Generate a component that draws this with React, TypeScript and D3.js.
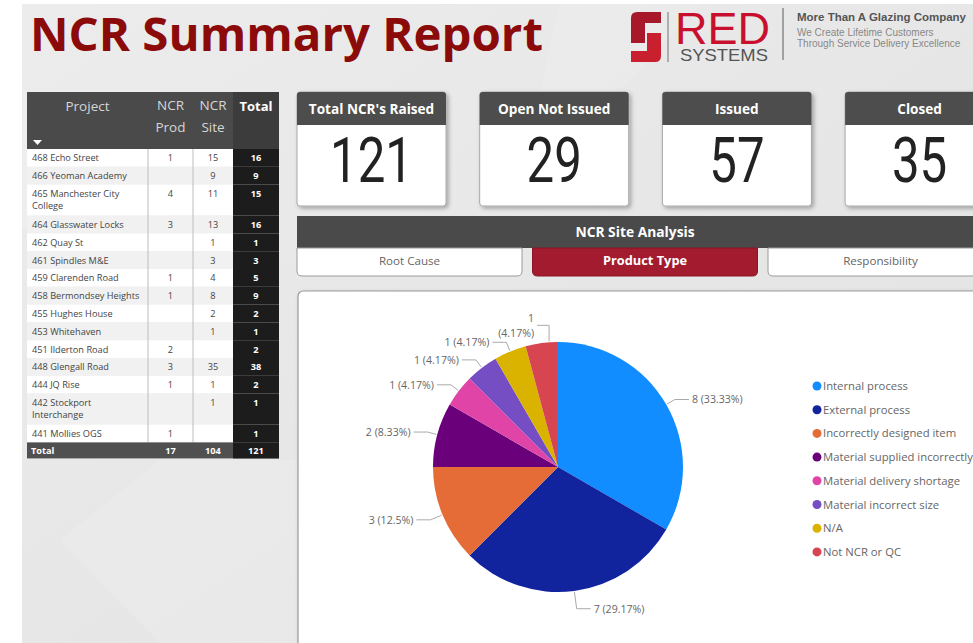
import React from "react";
import * as d3 from "d3";

// ---------- data ----------
const projects = [
  "468 Echo Street",
  "466 Yeoman Academy",
  "465 Manchester City College",
  "464 Glasswater Locks",
  "462 Quay St",
  "461 Spindles M&E",
  "459 Clarenden Road",
  "458 Bermondsey Heights",
  "455 Hughes House",
  "453 Whitehaven",
  "451 Ilderton Road",
  "448 Glengall Road",
  "444 JQ Rise",
  "442 Stockport Interchange",
  "441 Mollies OGS",
];
const ncrProd: (number | null)[] = [1, null, 4, 3, null, null, 1, 1, null, null, 2, 3, 1, null, 1];
const ncrSite: (number | null)[] = [15, 9, 11, 13, 1, 3, 4, 8, 2, 1, null, 35, 1, 1, null];

const kpiTitles = ["Total NCR's Raised", "Open Not Issued", "Issued", "Closed"];
const kpiValues = [121, 29, 57, 35];

const tabs = ["Root Cause", "Product Type", "Responsibility"];
const activeTab = 1;

const productTypes = [
  "Internal process",
  "External process",
  "Incorrectly designed item",
  "Material supplied incorrectly",
  "Material delivery shortage",
  "Material incorrect size",
  "N/A",
  "Not NCR or QC",
];
const productCounts = [8, 7, 3, 2, 1, 1, 1, 1];
const productColors = ["#118DFF", "#12239E", "#E66C37", "#6B007B", "#E044A7", "#744EC2", "#D9B300", "#D64550"];

// ---------- helpers ----------
const FONT = "'Open Sans', 'Noto Sans', sans-serif";
const LIB = "'Liberation Sans', Arial, sans-serif";

function wrap(name: string, max: number): string[] {
  const words = name.split(" ");
  const lines: string[] = [];
  let cur = "";
  for (const w of words) {
    const t = cur ? cur + " " + w : w;
    if (t.length > max && cur) {
      lines.push(cur);
      cur = w;
    } else cur = t;
  }
  if (cur) lines.push(cur);
  return lines;
}

function Table() {
  const x0 = 27, x1 = 148, x2 = 193, x3 = 233, x4 = 279;
  const headTop = 92, headBot = 149;
  const lines = projects.map((p) => wrap(p, 22));
  const heights = lines.map((l) => (l.length > 1 ? 31 : 17.8));
  const tops = [headBot, ...Array.from(d3.cumsum(heights)).map((c) => headBot + c)];
  const totals = projects.map((_, i) => (ncrProd[i] ?? 0) + (ncrSite[i] ?? 0));
  const bodyBot = tops[projects.length];
  const totalRowBot = bodyBot + 16;
  const sumProd = d3.sum(ncrProd.map((v) => v ?? 0));
  const sumSite = d3.sum(ncrSite.map((v) => v ?? 0));
  const sumAll = d3.sum(totals);
  const cProd = (x1 + x2) / 2, cSite = (x2 + x3) / 2, cTot = (x3 + x4) / 2;
  const fs = 9.2;
  return (
    <g fontFamily={FONT}>
      <rect x={x0} y={headTop} width={x4 - x0} height={headBot - headTop} fill="#4a4a4a" />
      <rect x={x3} y={headTop} width={x4 - x3} height={headBot - headTop} fill="#3c3c3c" />
      <text x={(x0 + x1) / 2} y={111} textAnchor="middle" fontSize={13.5} fill="#d6d6d6">Project</text>
      <path d={`M33,140 L42,140 L37.5,145 Z`} fill="#ffffff" />
      <text x={cProd} y={110} textAnchor="middle" fontSize={13.5} fill="#d6d6d6">NCR</text>
      <text x={cProd} y={132} textAnchor="middle" fontSize={13.5} fill="#d6d6d6">Prod</text>
      <text x={cSite} y={110} textAnchor="middle" fontSize={13.5} fill="#d6d6d6">NCR</text>
      <text x={cSite} y={132} textAnchor="middle" fontSize={13.5} fill="#d6d6d6">Site</text>
      <text x={cTot} y={111} textAnchor="middle" fontSize={13} fontWeight={700} fill="#ffffff">Total</text>
      {projects.map((p, i) => {
        const top = tops[i];
        const h = heights[i];
        const ty = top + 12.3;
        return (
          <g key={p}>
            <rect x={x0} y={top} width={x3 - x0} height={h} fill={i % 2 ? "#f1f1f1" : "#ffffff"} />
            <rect x={x3} y={top} width={x4 - x3} height={h} fill="#1c1c1c" />
            {lines[i].map((l, k) => (
              <text key={k} x={x0 + 5} y={ty + k * 12.5} fontSize={fs} fill="#444">{l}</text>
            ))}
            {ncrProd[i] != null && (
              <text x={cProd} y={ty} textAnchor="middle" fontSize={fs} fill="#444">{ncrProd[i]}</text>
            )}
            {ncrSite[i] != null && (
              <text x={cSite} y={ty} textAnchor="middle" fontSize={fs} fill="#444">{ncrSite[i]}</text>
            )}
            <text x={cTot} y={ty} textAnchor="middle" fontSize={fs} fontWeight={700} fill="#ffffff">{totals[i]}</text>
          </g>
        );
      })}
      <line x1={x1} x2={x1} y1={headBot} y2={bodyBot} stroke="#bdbdbd" strokeWidth={1} />
      <line x1={x2} x2={x2} y1={headBot} y2={bodyBot} stroke="#bdbdbd" strokeWidth={1} />
      <rect x={x0} y={bodyBot} width={x4 - x0} height={totalRowBot - bodyBot} fill="#505050" />
      <rect x={x3} y={bodyBot} width={x4 - x3} height={totalRowBot - bodyBot} fill="#1c1c1c" />
      <text x={x0 + 4} y={bodyBot + 11.5} fontSize={fs} fontWeight={700} fill="#ffffff">Total</text>
      <text x={cProd} y={bodyBot + 11.5} textAnchor="middle" fontSize={fs} fontWeight={700} fill="#ffffff">{sumProd}</text>
      <text x={cSite} y={bodyBot + 11.5} textAnchor="middle" fontSize={fs} fontWeight={700} fill="#ffffff">{sumSite}</text>
      <text x={cTot} y={bodyBot + 11.5} textAnchor="middle" fontSize={fs} fontWeight={700} fill="#ffffff">{sumAll}</text>
    </g>
  );
}

function Kpis() {
  const x = d3.scaleLinear().domain([0, 1]).range([297, 479.7]);
  const w = 149;
  return (
    <g fontFamily={FONT}>
      {kpiTitles.map((t, i) => {
        const cx = x(i);
        return (
          <g key={t}>
            <rect x={cx} y={92} width={w} height={114} rx={3} fill="#ffffff" stroke="#a8a8a8" filter="url(#shadow)" />
            <path d={`M${cx},${125} V${95} Q${cx},92 ${cx + 3},92 H${cx + w - 3} Q${cx + w},92 ${cx + w},95 V125 Z`} fill="#4d4d4d" />
            <text x={cx + w / 2} y={114} textAnchor="middle" fontSize={13.6} fontWeight={700} fill="#ffffff">{t}</text>
            <text
              transform={`translate(${cx + w / 2},182) scale(0.78,1)`}
              textAnchor="middle"
              fontFamily="Roboto, sans-serif"
              fontSize={63}
              fill="#222"
            >
              {kpiValues[i]}
            </text>
          </g>
        );
      })}
    </g>
  );
}

function Tabs() {
  const x = d3.scaleLinear().domain([0, 1]).range([297, 532.5]);
  const w = 225;
  return (
    <g fontFamily={FONT}>
      <rect x={297} y={216} width={700} height={32} fill="#4a4a4a" />
      <text x={635} y={237} textAnchor="middle" fontSize={13.8} fontWeight={700} fill="#ffffff">NCR Site Analysis</text>
      {tabs.map((t, i) => {
        const tx = x(i);
        const act = i === activeTab;
        const ww = i === tabs.length - 1 ? 260 : w;
        return (
          <g key={t}>
            <path
              d={`M${tx},248 V${271} Q${tx},276 ${tx + 5},276 H${tx + ww - 5} Q${tx + ww},276 ${tx + ww},271 V248 Z`}
              fill={act ? "#a31b2e" : "#ffffff"}
              stroke={act ? "#8a1525" : "#9a9a9a"}
              strokeWidth={1}
            />
            <text
              x={tx + w / 2}
              y={265}
              textAnchor="middle"
              fontSize={act ? 12.8 : 11.6}
              fontWeight={act ? 700 : 400}
              fill={act ? "#ffffff" : "#666"}
            >
              {t}
            </text>
          </g>
        );
      })}
    </g>
  );
}

function Pie() {
  const cx = 558, cy = 467, r = 125;
  const total = d3.sum(productCounts);
  const pie = d3.pie<number>().sort(null).value((d) => d)(productCounts);
  const arc = d3.arc<d3.PieArcDatum<number>>().innerRadius(0).outerRadius(r);
  const fmt = (v: number) => `${v} (${+((v / total) * 100).toFixed(2)}%)`;
  const pt = (a: number, rr: number) => [rr * Math.sin(a), -rr * Math.cos(a)];
  const legendY = d3.scaleLinear().domain([0, 1]).range([386, 409.7]);
  const lfs = 10.6;
  return (
    <g fontFamily={FONT}>
      <g transform={`translate(${cx},${cy})`}>
        {pie.map((s, i) => (
          <path key={i} d={arc(s) || ""} fill={productColors[i]} />
        ))}
        {pie.map((s, i) => {
          const last = i === pie.length - 1;
          const label = fmt(s.data);
          if (last) {
            const a = s.startAngle + 0.73 * (s.endAngle - s.startAngle);
            const p0 = pt(a, r + 1);
            const p1 = [p0[0], p0[1] - 16];
            const p2 = [p1[0] - 12, p1[1]];
            const parts = label.split(" ");
            return (
              <g key={i}>
                <polyline points={[p0, p1, p2].map((p) => p.join(",")).join(" ")} fill="none" stroke="#aaa" strokeWidth={1} />
                <text x={p2[0] - 3} y={p2[1] - 3} textAnchor="end" fontSize={lfs} fill="#666">{parts[0]}</text>
                <text x={p2[0] - 3} y={p2[1] + 12} textAnchor="end" fontSize={lfs} fill="#666">{parts[1]}</text>
              </g>
            );
          }
          const a = (s.startAngle + s.endAngle) / 2;
          const p0 = pt(a, r + 1);
          const p1 = pt(a, r + 10 + 8 * Math.max(0, -Math.cos(a)));
          const side = Math.sin(a) >= 0 ? 1 : -1;
          const p2 = [p1[0] + side * 14, p1[1]];
          return (
            <g key={i}>
              <polyline points={[p0, p1, p2].map((p) => p.join(",")).join(" ")} fill="none" stroke="#aaa" strokeWidth={1} />
              <text
                x={p2[0] + side * 3}
                y={p2[1] + 3.8}
                textAnchor={side > 0 ? "start" : "end"}
                fontSize={lfs}
                fill="#666"
              >
                {label}
              </text>
            </g>
          );
        })}
      </g>
      {productTypes.map((t, i) => (
        <g key={t}>
          <circle cx={817} cy={legendY(i)} r={4.5} fill={productColors[i]} />
          <text x={823} y={legendY(i) + 4} fontSize={11.3} fill="#666">{t}</text>
        </g>
      ))}
    </g>
  );
}

function Logo() {
  return (
    <g>
      <path d="M637,12 H661 V23 H645 V43 H631 V18 Q631,12 637,12 Z" fill="#a8182b" />
      <path d="M647,33 H661 V56 Q661,62 655,62 H631 V51 H647 Z" fill="#c8202f" />
      <line x1={668} x2={668} y1={12} y2={62} stroke="#9a9a9a" strokeWidth={1.5} />
      <text x={675} y={44} fontFamily={LIB} fontSize={44} fill="#c8102e" textLength={95} lengthAdjust="spacingAndGlyphs">RED</text>
      <text x={680} y={61} fontFamily={LIB} fontSize={17} fill="#555" textLength={88} lengthAdjust="spacingAndGlyphs">SYSTEMS</text>
      <line x1={783} x2={783} y1={8} y2={60} stroke="#8a8a8a" strokeWidth={1.5} />
      <text x={797} y={21} fontFamily={LIB} fontSize={11.5} fontWeight={700} fill="#555" textLength={169} lengthAdjust="spacingAndGlyphs">More Than A Glazing Company</text>
      <text x={797} y={36} fontFamily={LIB} fontSize={10} fill="#888">We Create Lifetime Customers</text>
      <text x={797} y={46.5} fontFamily={LIB} fontSize={10} fill="#888">Through Service Delivery Excellence</text>
    </g>
  );
}

export default function App() {
  return (
    <>
      <style>{"body{margin:0;overflow:hidden}"}</style>
      <svg width={973} height={643} style={{ display: "block" }}>
        <defs>
          <linearGradient id="bg" x1="0" y1="0" x2="1" y2="1">
            <stop offset="0" stopColor="#ececec" />
            <stop offset="1" stopColor="#e2e2e2" />
          </linearGradient>
          <filter id="shadow" x="-10%" y="-10%" width="125%" height="125%">
            <feDropShadow dx={2} dy={2} stdDeviation={2} floodColor="#000" floodOpacity={0.3} />
          </filter>
        </defs>
        <rect width={973} height={643} fill="#ffffff" />
        <rect x={22} y={4} width={951} height={639} fill="url(#bg)" />
        <path d="M22,90 L160,90 L60,200 L22,230 Z" fill="#ffffff" opacity={0.15} />
        <path d="M160,460 L60,540 L160,643 L300,643 L300,460 Z" fill="#ffffff" opacity={0.12} />
        <path d="M560,4 L700,4 L620,90 L540,90 Z" fill="#ffffff" opacity={0.12} />

        <text
          x={30}
          y={51}
          fontFamily={FONT}
          fontSize={47}
          fontWeight={700}
          fill="#8b0a0a"
          textLength={513}
          lengthAdjust="spacingAndGlyphs"
        >
          NCR Summary Report
        </text>
        <Logo />
        <Table />
        <Kpis />
        <Tabs />
        <rect x={298} y={291} width={700} height={370} rx={5} fill="#ffffff" stroke="#9a9a9a" strokeWidth={1.2} filter="url(#shadow)" />
        <Pie />
      </svg>
    </>
  );
}
